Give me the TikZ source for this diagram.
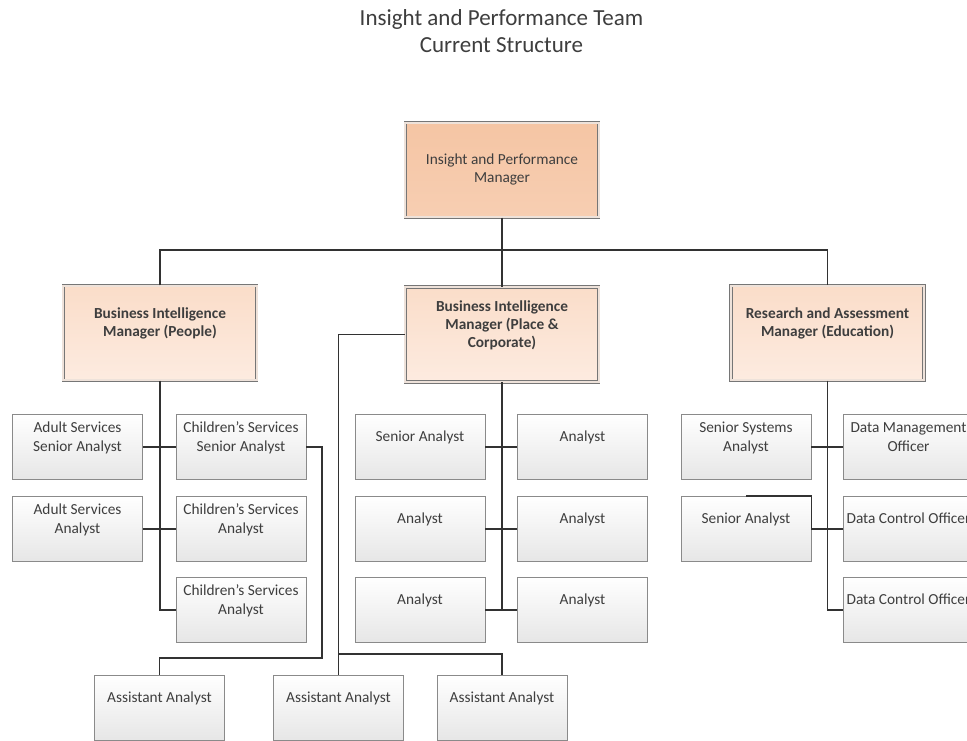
\documentclass[tikz,border=0pt]{standalone}
\usepackage{fontspec}
\setmainfont{Carlito}
\usetikzlibrary{calc}
\definecolor{txtgray}{RGB}{62,62,62}
\definecolor{boxline}{RGB}{138,138,138}
\definecolor{boxbot}{RGB}{230,230,230}
\definecolor{linkgray}{RGB}{50,50,50}
\definecolor{mgrline}{RGB}{118,118,118}
\definecolor{mgrgap}{RGB}{238,226,218}
\definecolor{topfill}{RGB}{245,197,164}
\definecolor{topfillb}{RGB}{247,206,178}
\definecolor{mgrtop}{RGB}{250,221,201}
\definecolor{mgrbot}{RGB}{253,235,224}
\newcommand\posttext[2][13.5pt]{\raisebox{0pt}[\height][\dimexpr\depth+#1\relax]{\begin{tabular}{@{}c@{}}#2\end{tabular}}}
\tikzset{
  post/.style={draw=boxline, line width=0.6pt, top color=white, bottom color=boxbot, minimum width=97.5pt, minimum height=49pt, inner sep=0pt, text=txtgray, font=\fontsize{11.5}{14.25}\selectfont},
  mgr/.style={draw=mgrline, line width=0.6pt, double=mgrgap, double distance=1.4pt, top color=mgrtop, bottom color=mgrbot, minimum width=145pt, minimum height=71pt, inner sep=0pt, text=txtgray, font=\bfseries\fontsize{11.5}{13.5}\selectfont},
  link/.style={draw=linkgray, line width=1.3pt}
}
\begin{document}
\begin{tikzpicture}[x=0.75pt,y=0.75pt,yscale=-1,xscale=1]
\useasboundingbox (0,0) rectangle (967,740);
\fill[white] (0,0) rectangle (967,740);
\clip (0,0) rectangle (967,740);

% Text Node
\node[text=txtgray, font=\fontsize{17.25}{20.25}\selectfont, align=center] (title) at (501.5,31) {Insight and Performance Team\\Current Structure};

%Managers
\node[mgr, top color=topfill, bottom color=topfillb, font=\fontsize{11.5}{13.5}\selectfont] (ipm) at (502,170) {\posttext[0pt]{Insight and Performance\\Manager}};
\node[mgr] (bipeople) at (160,333) {\posttext{Business Intelligence\\Manager (People)}};
\node[mgr] (biplace) at (502,334.5) {\posttext{Business Intelligence\\Manager (Place \&\\Corporate)}};
\node[mgr] (ram) at (827.5,333) {\posttext{Research and Assessment\\Manager (Education)}};

%People team
\node[post] (as1) at (77.5,447) {\posttext{Adult Services\\Senior Analyst}};
\node[post] (cs1) at (241,447) {\posttext{Children’s Services\\Senior Analyst}};
\node[post] (as2) at (77.5,529) {\posttext{Adult Services\\Analyst}};
\node[post] (cs2) at (241,529) {\posttext{Children’s Services\\Analyst}};
\node[post] (cs3) at (241,610) {\posttext{Children’s Services\\Analyst}};

%Place and Corporate team
\node[post] (sa) at (420,447) {\posttext{Senior Analyst}};
\node[post] (an1) at (582.5,447) {\posttext{Analyst}};
\node[post] (an2) at (420,529) {\posttext{Analyst}};
\node[post] (an3) at (582.5,529) {\posttext{Analyst}};
\node[post] (an4) at (420,610) {\posttext{Analyst}};
\node[post] (an5) at (582.5,610) {\posttext{Analyst}};

%Education team
\node[post] (ssa) at (746,447) {\posttext{Senior Systems\\Analyst}};
\node[post] (dmo) at (908.5,447) {\posttext{Data Management\\Officer}};
\node[post] (sa2) at (746,529) {\posttext{Senior Analyst}};
\node[post] (dco1) at (908.5,529) {\posttext{Data Control Officer}};
\node[post] (dco2) at (908.5,610) {\posttext{Data Control Officer}};

%Assistants
\node[post] (aa1) at (159.5,708) {\posttext{Assistant Analyst}};
\node[post] (aa2) at (338.5,708) {\posttext{Assistant Analyst}};
\node[post] (aa3) at (502,708) {\posttext{Assistant Analyst}};

%Straight Lines
\coordinate (bus) at (502,250);
\coordinate (lbend) at (322,658);
\coordinate (mbend) at (338.5,654);
\draw[link] (ipm.south) -- (biplace.north);
\draw[link] (bipeople.north) |- (bus) -| (ram.north);

\draw[link] (bipeople.south) |- (cs3.west);
\draw[link] (as1.east) -- (cs1.west);
\draw[link] (as2.east) -- (cs2.west);
\draw[link] (cs1.east) -| (lbend) -| (aa1.north);

\draw[link] (biplace.west) -| (aa2.north);
\draw[link] (mbend) -| (aa3.north);
\draw[link] (biplace.south) -- (biplace.south |- an4.east);
\draw[link] (sa.east) -- (an1.west);
\draw[link] (an2.east) -- (an3.west);
\draw[link] (an4.east) -- (an5.west);

\draw[link] (ram.south) |- (dco2.west);
\draw[link] (ssa.east) -- (dmo.west);
\draw[link] (sa2.north) -- (sa2.north east) -- (sa2.east) -- (dco1.west);

\end{tikzpicture}
\end{document}
